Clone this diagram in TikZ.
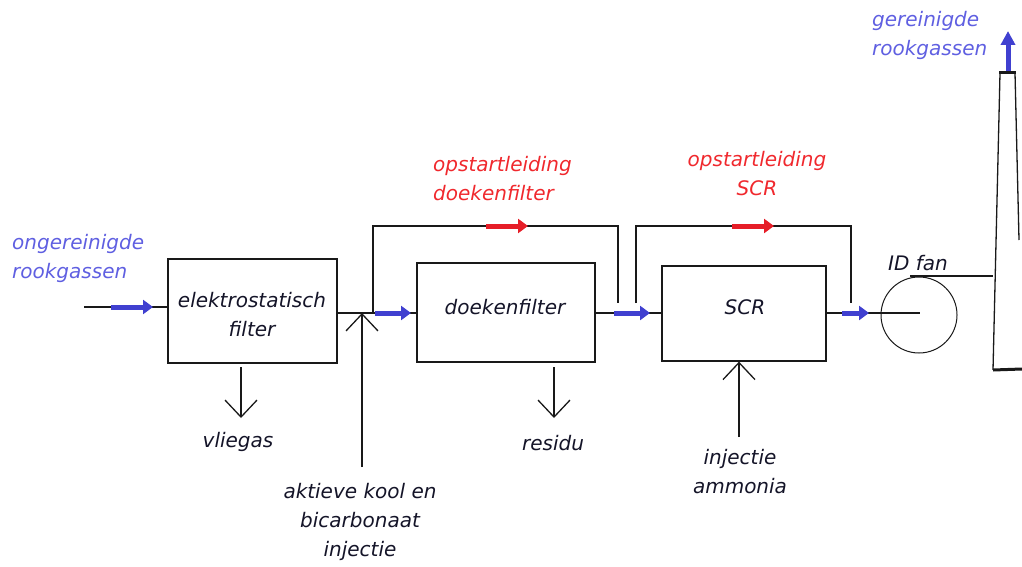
\documentclass[tikz,border=0pt]{standalone}
\usepackage{fontspec}
\setmainfont{DejaVu Sans}
\usetikzlibrary{arrows.meta}
\definecolor{flowblue}{RGB}{64,64,208}
\definecolor{labelblue}{RGB}{95,95,225}
\definecolor{labelred}{RGB}{240,40,45}
\definecolor{flowred}{RGB}{230,30,40}
\definecolor{linegray}{RGB}{25,25,25}
\definecolor{boxtext}{RGB}{20,20,40}
\begin{document}
\begin{tikzpicture}[x=1pt,y=-1pt,
  pipe/.style={draw=linegray, line width=1.3pt},
  box/.style={pipe, inner sep=0pt, align=center, text=boxtext, font=\fontsize{20}{29}\selectfont\itshape},
  flow/.style={draw=flowblue, line width=5pt, -{Triangle[length=10pt,width=14pt]}},
  rflow/.style={draw=flowred, line width=5pt, -{Triangle[length=10pt,width=14pt]}},
  barb/.style={pipe, -{Straight Barb[length=17pt,width=32pt,line width=1.3pt]}},
  lbl/.style={inner sep=0pt, align=center, text=boxtext, font=\fontsize{20}{29}\selectfont\itshape},
  blbl/.style={lbl, text=labelblue, align=left},
  rlbl/.style={lbl, text=labelred}
]
\useasboundingbox (0,0) rectangle (1022,567);

% boxes
\node[box, minimum width=169pt, minimum height=104pt] (esf) at (252.5,311) {};
\node[box, minimum width=178pt, minimum height=99pt] (df) at (506,312.5) {};
\node[box, minimum width=164pt, minimum height=95pt] (scr) at (744,313.5) {};
\node[pipe, circle, minimum size=76pt, inner sep=0pt, line width=1pt] (fan) at (919,315) {};
\node[lbl] (esft) at (252,315) {elektrostatisch\\filter};
\node[lbl] (dft) at (505,307) {doekenfilter};
\node[lbl] (scrt) at (745,307) {SCR};

% coordinates
\coordinate (in) at (84,307);
\coordinate (j1) at (362,313);
\coordinate (b1s) at (373,313);
\coordinate (b1t) at (373,226);
\coordinate (b1r) at (618,226);
\coordinate (b1e) at (618,303);
\coordinate (b2s) at (636,303);
\coordinate (b2t) at (636,226);
\coordinate (b2r) at (851,226);
\coordinate (b2e) at (851,303);
\coordinate (fanc) at (920,313);
\coordinate (fant) at (910,276);
\coordinate (chin) at (993,276);
\coordinate (chb) at (993,370);
\coordinate (cht) at (1000,73);
\coordinate (chtr) at (1015,73);
\coordinate (chr) at (1019,240);
\coordinate (chbr) at (1022,369);
\coordinate (ash) at (241,367);
\coordinate (asht) at (241,418);
\coordinate (res) at (554,367);
\coordinate (rest) at (554,418);
\coordinate (inj1) at (362,467);
\coordinate (inj2) at (739,437);

% main pipes
\draw[pipe] (in) -- (in -| esf.west);
\draw[pipe] (esf.east |- j1) -- (df.west |- j1);
\draw[pipe] (df.east |- j1) -- (scr.west |- j1);
\draw[pipe] (scr.east |- j1) -- (fanc);

% bypasses
\draw[pipe] (b1s) -- (b1t) -- (b1r) -- (b1e);
\draw[pipe] (b2s) -- (b2t) -- (b2r) -- (b2e);
\draw[rflow] (486,226) -- (528,226);
\draw[rflow] (732,226) -- (774,226);

% blue flow arrows
\draw[flow] (111,307) -- (153,307);
\draw[flow] (375,313) -- (411,313);
\draw[flow] (614,313) -- (650,313);
\draw[flow] (842,313) -- (869,313);

% side streams
\draw[barb] (ash) -- (asht);
\draw[barb] (res) -- (rest);
\draw[barb] (inj1) -- (j1);
\draw[barb] (inj2) -- (inj2 |- scr.south);

% fan to chimney
\draw[pipe] (fant) -- (chin);
\draw[pipe] (chb) -- (cht);
\draw[pipe, line width=3pt] (999,73) -- (1016,73);
\draw[pipe] (chtr) -- (chr);
\draw[pipe, line width=3pt] (chb) -- (chbr);
\draw[flow, -{Triangle[length=14pt,width=14pt]}] (1008,71) -- (1008,31);

% labels
\node[blbl, anchor=west] (lin) at (12,258) {ongereinigde\\rookgassen};
\node[blbl, anchor=west] (lout) at (872,35) {gereinigde\\rookgassen};
\node[rlbl, anchor=west, align=left] (lb1) at (433,179) {opstartleiding\\doekenfilter};
\node[rlbl] (lb2) at (757,174) {opstartleiding\\SCR};
\node[lbl] (lfan) at (918,263) {ID fan};
\node[lbl] (lash) at (238,442) {vliegas};
\node[lbl] (lres) at (553,443) {residu};
\node[lbl] (linj1) at (360,522) {aktieve kool en\\bicarbonaat\\injectie};
\node[lbl] (linj2) at (740,472) {injectie\\ammonia};
\end{tikzpicture}
\end{document}
